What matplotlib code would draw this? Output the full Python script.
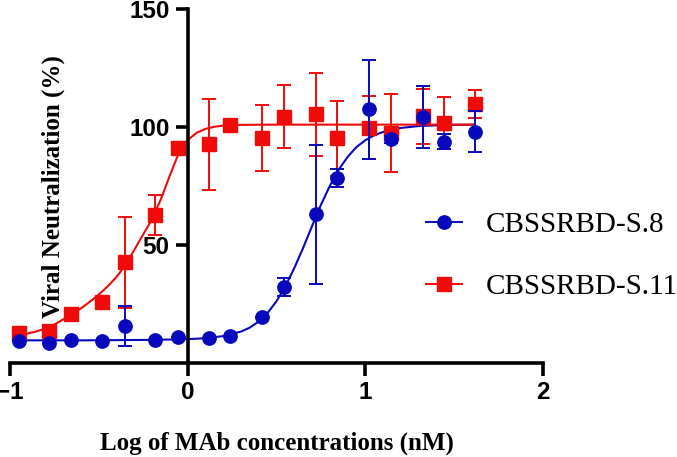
import matplotlib
matplotlib.use('agg')
import matplotlib.pyplot as plt
from matplotlib.lines import Line2D

# log10 of MAb concentration (nM), shared by both antibodies
log_conc = [-0.951, -0.782, -0.658, -0.484, -0.355, -0.186, -0.056, 0.118, 0.236,
            0.416, 0.540, 0.720, 0.838, 1.019, 1.142, 1.322, 1.441, 1.615]

s8_mean = [9.4, 8.6, 9.7, 9.2, 15.7, 9.7, 11.0, 10.5, 11.6,
           19.4, 32.3, 63.0, 78.4, 107.5, 94.8, 104.1, 93.8, 98.0]
s8_err = [0, 0, 0, 0, 8.5, 0, 0, 0, 0,
          0, 3.9, 29.5, 3.8, 21.0, 1.5, 13.2, 3.3, 8.7]

s11_mean = [12.6, 13.7, 20.8, 26.0, 42.6, 62.7, 91.0, 92.6, 100.8,
            95.2, 104.3, 105.3, 95.2, 99.7, 97.3, 104.5, 101.5, 109.8]
s11_err = [0, 0, 0, 0, 19.3, 8.6, 0, 19.2, 0,
           14.0, 13.4, 17.7, 16.0, 13.4, 16.5, 11.8, 11.0, 6.0]

# fitted dose-response curves
s8_fit_x = [-0.951, -0.8, -0.6, -0.4, -0.2, 0.0, 0.1, 0.2, 0.3, 0.35, 0.4, 0.45,
            0.5, 0.55, 0.6, 0.65, 0.7, 0.75, 0.8, 0.85, 0.9, 0.95, 1.0, 1.05,
            1.1, 1.2, 1.3, 1.4, 1.5, 1.615]
s8_fit_y = [9.6, 9.6, 9.6, 9.7, 9.8, 10.1, 10.5, 11.4, 13.3, 15.0, 17.6, 21.2,
            26.2, 32.5, 40.2, 48.8, 58.0, 67.0, 75.0, 81.9, 87.3, 91.5, 94.4, 96.5,
            97.9, 99.6, 100.4, 100.7, 100.9, 101.0]

s11_fit_x = [-0.951, -0.9, -0.85, -0.8, -0.75, -0.7, -0.65, -0.6, -0.55, -0.5,
             -0.45, -0.4, -0.35, -0.3, -0.25, -0.2, -0.15, -0.1, -0.05, 0.0,
             0.05, 0.1, 0.15, 0.2, 0.3, 0.5, 0.8, 1.2, 1.615]
s11_fit_y = [11.8, 12.5, 13.4, 14.6, 16.3, 18.5, 20.8, 23.2, 26.0, 29.0,
             32.5, 36.5, 41.5, 48.0, 54.5, 61.0, 69.5, 79.5, 89.0, 94.5,
             97.5, 99.2, 100.1, 100.6, 100.9, 101.0, 101.0, 101.0, 101.0]

labels = ['CBSSRBD-S.8', 'CBSSRBD-S.11']
blue = '#0808bc'
red = '#f00a0a'

fig = plt.figure(figsize=(6.77, 4.57), dpi=100)
ax = fig.add_axes([10 / 677, 1 - 363 / 457, 533 / 677, 354 / 457])

ax.plot(s8_fit_x, s8_fit_y, color=blue, lw=1.5, clip_on=False)
ax.plot(s11_fit_x, s11_fit_y, color=red, lw=1.5, clip_on=False)

ax.errorbar(log_conc, s8_mean, yerr=s8_err, fmt='o', color=blue, ms=9.6,
            elinewidth=1.4, capsize=4.8, capthick=1.4, clip_on=False, zorder=3)
ax.errorbar(log_conc, s11_mean, yerr=s11_err, fmt='s', color=red, ms=10,
            elinewidth=1.4, capsize=4.8, capthick=1.4, clip_on=False, zorder=2)

ax.set_xlim(-1, 2)
ax.set_ylim(0, 150)
ax.spines['left'].set_position(('data', 0))
ax.spines['top'].set_visible(False)
ax.spines['right'].set_visible(False)
for s in ['left', 'bottom']:
    ax.spines[s].set_linewidth(2.6)
    ax.spines[s].set_capstyle('projecting')

ax.set_xticks([-1, 0, 1, 2])
ax.set_yticks([50, 100, 150])
ax.tick_params(width=2.6, length=9, labelsize=17.5, pad=4)
for lab in ax.get_xticklabels() + ax.get_yticklabels():
    lab.set_fontfamily('Liberation Sans')
    lab.set_fontweight('bold')

fig.text(277 / 677, 1 - 443 / 457, 'Log of MAb concentrations (nM)',
         family='Liberation Serif', weight='bold', fontsize=18,
         ha='center', va='center')
fig.text(53 / 677, 1 - 187 / 457, 'Viral Neutralization (%)',
         family='Liberation Serif', weight='bold', fontsize=18,
         rotation=90, ha='center', va='center')

handles = [Line2D([], [], color=blue, marker='o', ms=9.6, lw=1.4),
           Line2D([], [], color=red, marker='s', ms=10, lw=1.4)]
fig.legend(handles, labels, loc='center left', bbox_to_anchor=(426 / 677, 1 - 256 / 457),
           frameon=False, prop={'family': 'Liberation Serif', 'size': 21},
           handlelength=1.25, handletextpad=0.8, labelspacing=1.2,
           borderpad=0, borderaxespad=0)

fig.savefig('out.png', dpi=100)
